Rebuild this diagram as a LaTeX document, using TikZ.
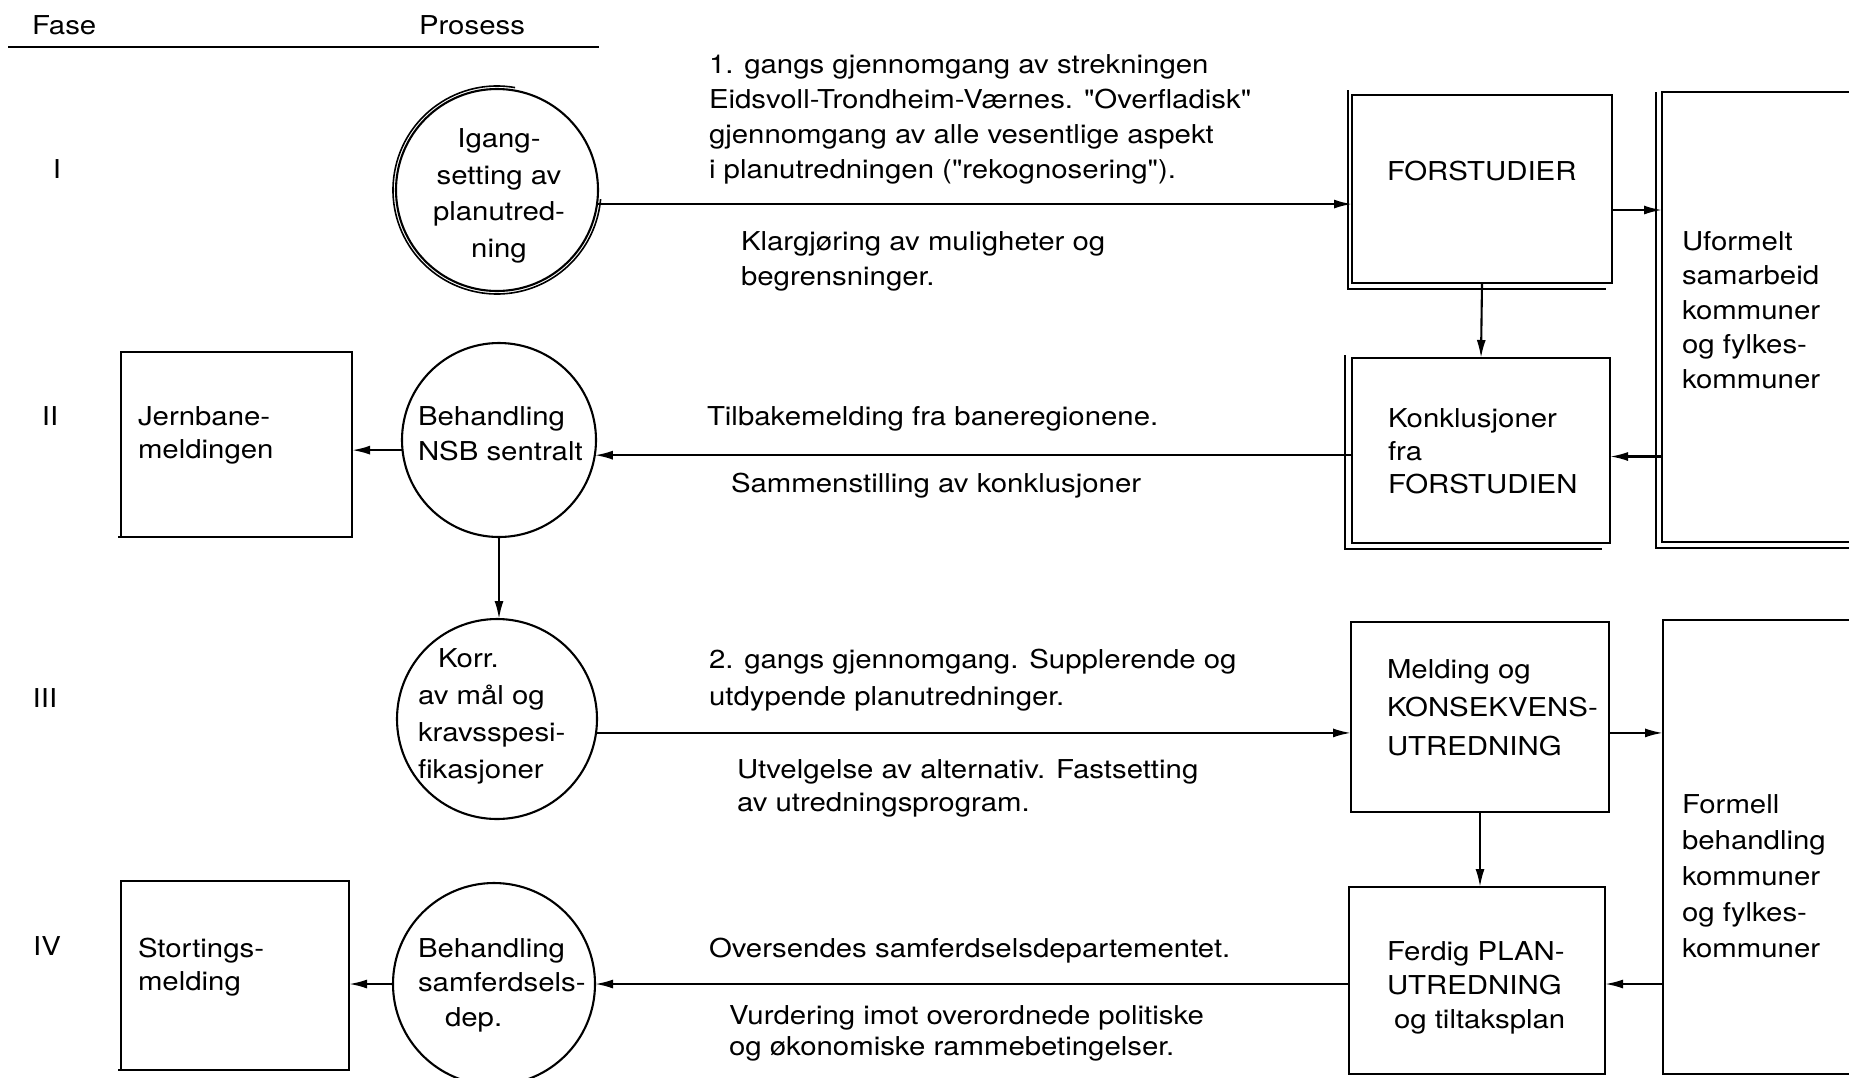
\documentclass[tikz,border=0pt]{standalone}
\usepackage{fontspec}
\setmainfont{TeX Gyre Heros}[FakeStretch=1.13, Ligatures=TeXOff]
\usetikzlibrary{arrows.meta}
\begin{document}
\begin{tikzpicture}[x=1pt,y=-1pt,
  every node/.style={inner sep=0pt, outer sep=0pt},
  ls/.style={font=\fontsize{26}{#1}\selectfont},
  ls/.default=35,
  txt/.style={ls, anchor=base west, align=left},
  box/.style={draw, rectangle, line width=2.1pt},
  proc/.style={draw, circle, line width=2.1pt},
  arr/.style={-{Latex[length=18pt,width=9pt]}, line width=2.1pt},
  line width=2.1pt]
\useasboundingbox (0,0) rectangle (1849,1077);
\clip (0,0) rectangle (1849,1077);

% column heads
\node[txt] (fase) at (32,34) {Fase};
\node[txt] (prosess) at (419,34) {Prosess};
\coordinate (hl) at (8,47);
\coordinate (hr) at (599,47);
\draw[line width=2.8pt] (hl) -- (hr);

% phase numbers
\node[ls, anchor=base] (ph1) at (57,178) {I};
\node[ls, anchor=base] (ph2) at (50,425) {II};
\node[ls, anchor=base] (ph3) at (45,707) {III};
\node[ls, anchor=base] (ph4) at (47,955) {IV};

% process circles (multi-line labels are placed by their last baseline)
\node[proc, minimum size=202pt] (c1) at (497,190) {};
\node[proc, minimum size=194pt] (nsb) at (499,440) {};
\node[proc, minimum size=200pt] (korr) at (497,719) {};
\node[proc, minimum size=202pt] (samf) at (494,984) {};
\draw[line width=1.6pt] (c1.center) ++(80:104pt) arc[start angle=80, end angle=355, radius=104pt];

\node[ls=36.5, anchor=base, align=center] (c1t) at (499,257) {Igang-\\setting av\\planutred-\\ning};
\node[txt] (nsbt) at (418,460) {Behandling\\NSB sentralt};
\node[txt, ls=36.7] (korrt) at (418,778) {\hspace*{20pt}Korr.\\av mål og\\kravsspesi-\\fikasjoner};
\node[txt, ls=34.5] (samft) at (418,1026) {Behandling\\samferdsels-\\\hspace*{27pt}dep.};

% left-hand boxes
\node[box, minimum width=231pt, minimum height=185pt] (jern) at (236.5,444.5) {};
\node[box, minimum width=228pt, minimum height=189pt] (stort) at (235,975.5) {};
\draw[line width=2.8pt] ([shift={(-3,0)}]jern.south west) -- (jern.south east);
\draw[line width=2.8pt] ([shift={(-3,0)}]stort.south west) -- (stort.south east);
\node[txt, ls=33] (jernt) at (138,458) {Jernbane-\\meldingen};
\node[txt, ls=33] (stortt) at (138,990) {Stortings-\\melding};

% right-hand boxes
\node[box, minimum width=260pt, minimum height=188pt] (forst) at (1482,189) {};
\node[box, minimum width=258pt, minimum height=185pt] (konkl) at (1481,450.5) {};
\node[box, minimum width=239pt, minimum height=450pt] (uform) at (1781.5,317) {};
\node[box, minimum width=258pt, minimum height=190pt] (meld) at (1480,717) {};
\node[box, minimum width=256pt, minimum height=187pt] (ferdig) at (1477,980.5) {};
\node[box, minimum width=238pt, minimum height=454pt] (formell) at (1782,847) {};

% doubled edges of the first-round boxes
\draw[line width=1.6pt] ([shift={(-4,-5)}]forst.north west) -- ([shift={(-4,6)}]forst.south west) -- ([shift={(-6,6)}]forst.south east);
\draw[line width=1.6pt] ([shift={(-7,-3)}]konkl.north west) -- ([shift={(-7,6)}]konkl.south west) -- ([shift={(-8,6)}]konkl.south east);
\draw[line width=1.6pt] ([shift={(-6,0)}]uform.north west) -- ([shift={(-6,6)}]uform.south west) -- ([shift={(0,6)}]uform.south east);

\node[txt] (forstt) at (1387,180) {FORSTUDIER};
\node[txt, ls=33] (konklt) at (1388,493) {Konklusjoner\\fra\\FORSTUDIEN};
\node[txt, ls=34.5] (uformt) at (1682,388) {Uformelt\\samarbeid\\kommuner\\og fylkes-\\kommuner};
\node[txt, ls=38.5] (meldt) at (1387,755) {Melding og\\KONSEKVENS-\\UTREDNING};
\node[txt, ls=34] (ferdigt) at (1387,1028) {Ferdig PLAN-\\UTREDNING\\\hspace*{7pt}og tiltaksplan};
\node[txt, ls=36] (formellt) at (1682,957) {Formell\\behandling\\kommuner\\og fylkes-\\kommuner};

% texts along the connectors
\node[txt] (t1a) at (709,178) {1. gangs gjennomgang av strekningen\\Eidsvoll-Trondheim-Værnes. "Overfladisk"\\gjennomgang av alle vesentlige aspekt\\i planutredningen ("rekognosering").};
\node[txt] (t1b) at (741,285) {Klargjøring av muligheter og\\begrensninger.};
\node[txt] (t2a) at (707,425) {Tilbakemelding fra baneregionene.};
\node[txt] (t2b) at (731,492) {Sammenstilling av konklusjoner};
\node[txt, ls=37] (t3a) at (709,705) {2. gangs gjennomgang. Supplerende og\\utdypende planutredninger.};
\node[txt, ls=33] (t3b) at (737,811) {Utvelgelse av alternativ. Fastsetting\\av utredningsprogram.};
\node[txt] (t4a) at (709,957) {Oversendes samferdselsdepartementet.};
\node[txt, ls=31] (t4b) at (729,1055) {Vurdering imot overordnede politiske\\og økonomiske rammebetingelser.};

% connectors
\coordinate (fo) at ([shift={(0,21)}]forst.east);
\coordinate (ko) at ([shift={(0,6)}]konkl.east);
\draw[arr] (c1.-8.5) -- (forst.west |- c1.-8.5);
\draw[arr] (fo) -- (uform.west |- fo);
\draw[arr] (forst.south) -- (konkl.north);
\draw[arr] (uform.west |- ko) -- (ko);
\draw[arr] (konkl.west |- nsb.-9) -- (nsb.-9);
\draw[arr] (nsb.186) -- (jern.east |- nsb.186);
\draw[arr] (nsb.south) -- (nsb.south |- korr.north);
\draw[arr] (korr.-8) -- (meld.west |- korr.-8);
\draw[arr] (meld.east |- korr.-8) -- (formell.west |- korr.-8);
\draw[arr] (meld.south) -- (meld.south |- ferdig.north);
\draw[arr] (formell.west |- samf.east) -- (ferdig.east |- samf.east);
\draw[arr] (ferdig.west |- samf.east) -- (samf.east);
\draw[arr] (samf.west) -- (stort.east |- samf.west);
\end{tikzpicture}
\end{document}
